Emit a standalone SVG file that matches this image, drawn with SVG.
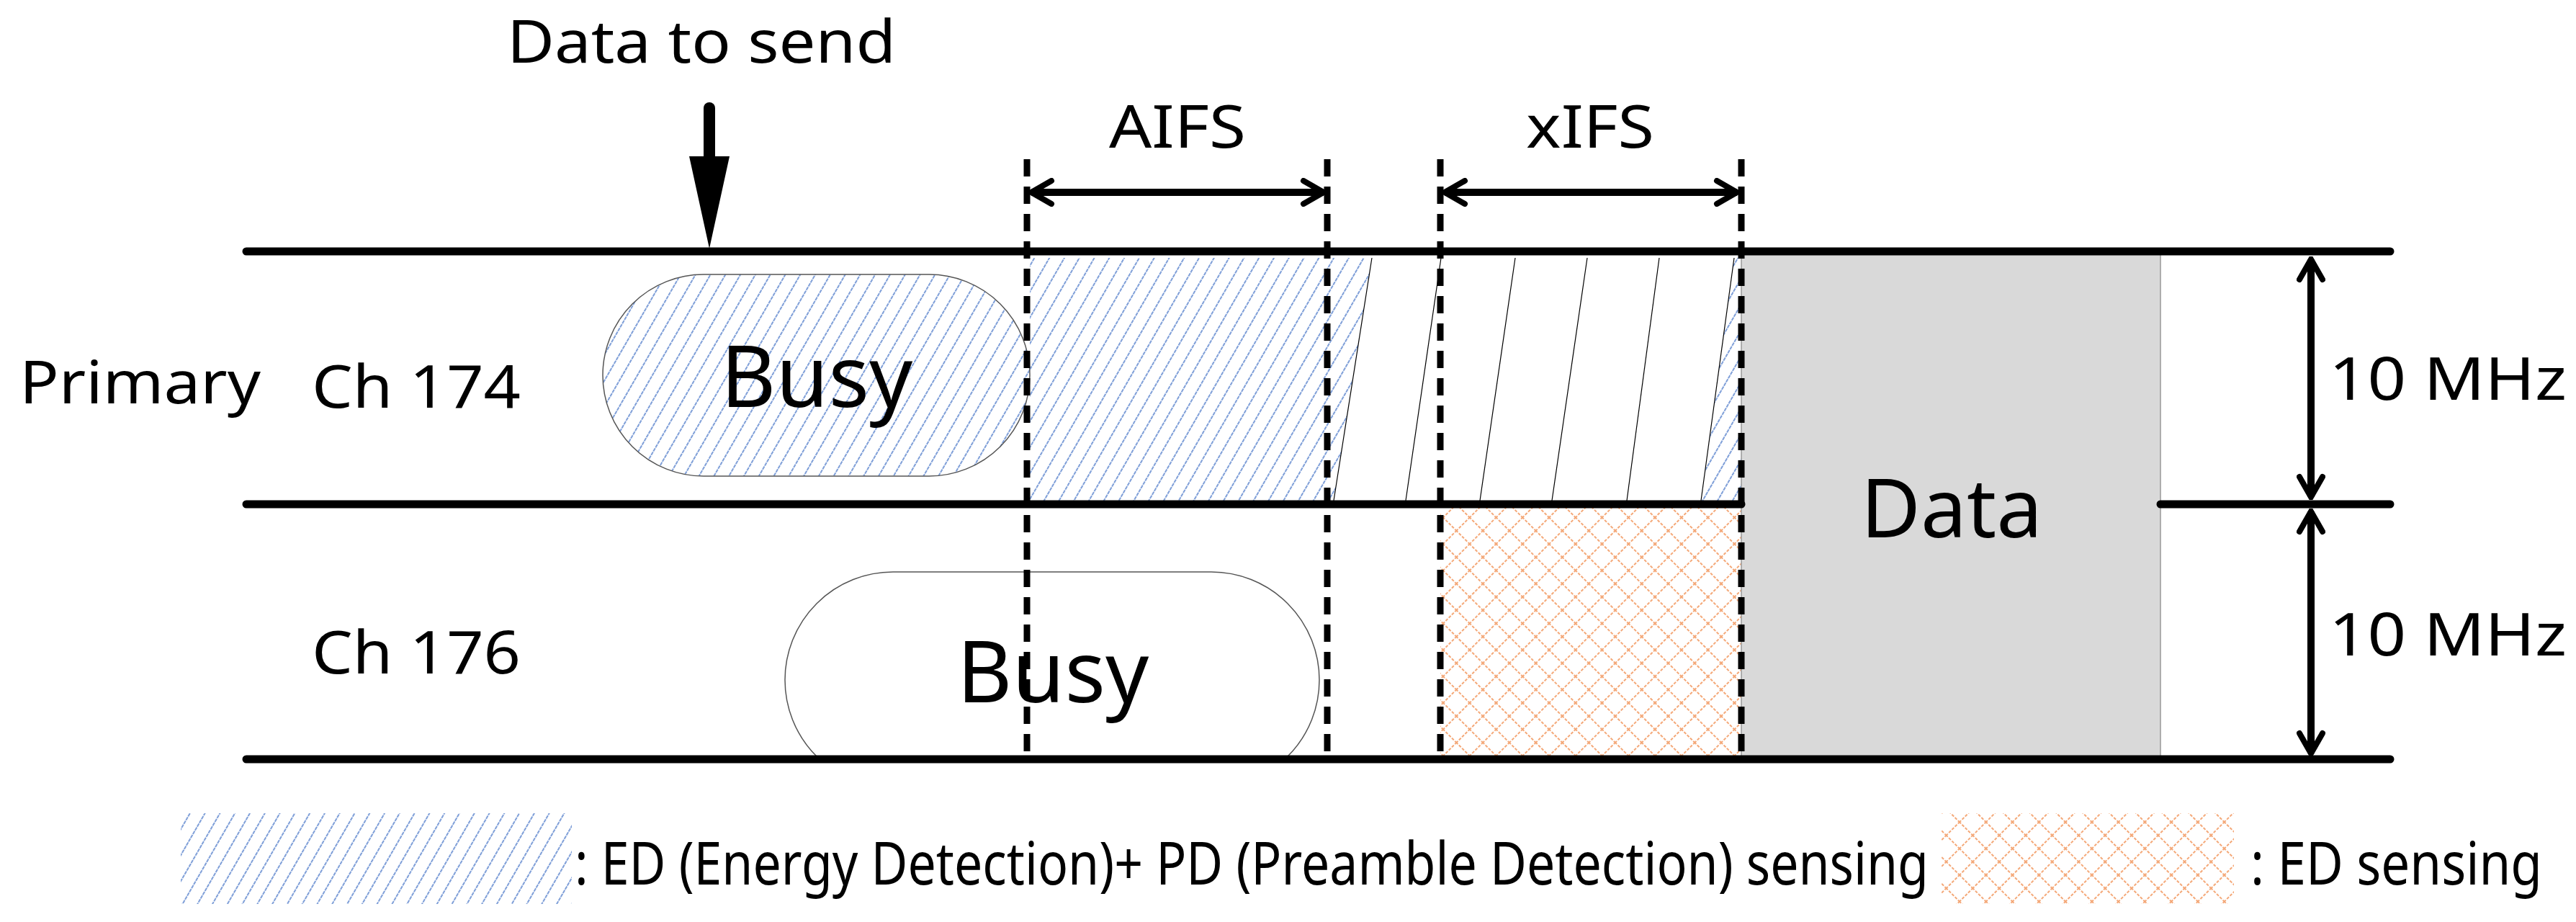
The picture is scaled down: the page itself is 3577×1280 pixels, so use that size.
<svg xmlns="http://www.w3.org/2000/svg" width="3577" height="1280" viewBox="0 0 3577 1280">
<defs>
<pattern id="blue" width="18" height="18" patternUnits="userSpaceOnUse" patternTransform="rotate(30)">
<line x1="0" y1="0" x2="0" y2="18" stroke="#7f9fd8" stroke-width="4" stroke-dasharray="5 1"/>
</pattern>
<pattern id="orange" width="26" height="26" patternUnits="userSpaceOnUse" patternTransform="rotate(45)">
<line x1="0" y1="0" x2="0" y2="26" stroke="#f4a878" stroke-width="4" stroke-dasharray="4 2"/>
<line x1="0" y1="0" x2="26" y2="0" stroke="#f4a878" stroke-width="4" stroke-dasharray="4 2"/>
</pattern>
<clipPath id="clip176"><rect x="1000" y="780" width="900" height="274"/></clipPath>
<marker id="ah2" viewBox="0 0 40 40" refX="36" refY="20" markerWidth="40" markerHeight="40" markerUnits="userSpaceOnUse" orient="auto-start-reverse">
<path d="M8,4 L36,20 L8,36" fill="none" stroke="#000" stroke-width="8" stroke-linecap="round"/>
</marker>
</defs>
<style>
text{font-family:"Noto Sans","Liberation Sans",sans-serif;fill:#000}
.l{font-size:82px}
.big{font-size:118px}
.ln{stroke:#000;stroke-width:11;stroke-linecap:round}
.dash{stroke:#000;stroke-width:9;stroke-dasharray:24 14}
.thin{stroke:#000;stroke-width:1.2}
</style>
<g id="fills">
<polygon points="1430,358 1905,358 1852,695 1430,695" fill="url(#blue)"/>
<polygon points="2408,358 2418,358 2418,695 2362,695" fill="url(#blue)"/>
<g class="thin">
<line x1="1905" y1="358" x2="1852" y2="695"/>
<line x1="2001" y1="358" x2="1952" y2="695"/>
<line x1="2104" y1="358" x2="2055" y2="695"/>
<line x1="2204" y1="358" x2="2155" y2="695"/>
<line x1="2304" y1="358" x2="2259" y2="695"/>
<line x1="2408" y1="358" x2="2362" y2="695"/>
</g>
<rect x="2000" y="700" width="418" height="354" fill="url(#orange)"/>
</g>
<g id="busy174">
<rect x="837" y="381" width="593" height="280" rx="140" fill="url(#blue)" stroke="#555" stroke-width="1.5"/>
<text class="big" x="1134" y="565" text-anchor="middle">Busy</text>
</g>
<g id="busy176">
<rect x="1090" y="794" width="742" height="300" rx="150" fill="#fff" stroke="#555" stroke-width="1.5" clip-path="url(#clip176)"/>
<text class="big" x="1462" y="975" text-anchor="middle">Busy</text>
</g>
<g id="data">
<rect x="2418" y="349" width="582" height="705" fill="#d9d9d9" stroke="#999" stroke-width="1.5"/>
<text x="2710" y="746" text-anchor="middle" style="font-size:114px">Data</text>
</g>
<g id="connectors">
<line class="ln" x1="342" y1="349" x2="3319" y2="349"/>
<line class="ln" x1="342" y1="700" x2="2418" y2="700"/>
<line class="ln" x1="3000" y1="700" x2="3319" y2="700"/>
<line class="ln" x1="342" y1="1054" x2="3319" y2="1054"/>
<line class="dash" x1="1426" y1="221" x2="1426" y2="1054"/>
<line class="dash" x1="1843" y1="221" x2="1843" y2="1054"/>
<line class="dash" x1="2000" y1="221" x2="2000" y2="1054"/>
<line class="dash" x1="2418" y1="221" x2="2418" y2="1054"/>
<line x1="1432" y1="267" x2="1838" y2="267" stroke="#000" stroke-width="10" marker-start="url(#ah2)" marker-end="url(#ah2)"/>
<line x1="2006" y1="267" x2="2412" y2="267" stroke="#000" stroke-width="10" marker-start="url(#ah2)" marker-end="url(#ah2)"/>
<line x1="3209" y1="360" x2="3209" y2="690" stroke="#000" stroke-width="10" marker-start="url(#ah2)" marker-end="url(#ah2)"/>
<line x1="3209" y1="710" x2="3209" y2="1046" stroke="#000" stroke-width="10" marker-start="url(#ah2)" marker-end="url(#ah2)"/>
<line x1="985" y1="150" x2="985" y2="220" stroke="#000" stroke-width="16" stroke-linecap="round"/>
<polygon points="957,217 1013,217 985,345" fill="#000"/>
</g>
<g id="labels">
<text class="l" x="974" y="87" text-anchor="middle" textLength="540" lengthAdjust="spacingAndGlyphs">Data to send</text>
<text class="l" x="1635" y="205" text-anchor="middle" textLength="190" lengthAdjust="spacingAndGlyphs">AIFS</text>
<text class="l" x="2208" y="205" text-anchor="middle" textLength="178" lengthAdjust="spacingAndGlyphs">xIFS</text>
<text class="l" x="27" y="560" textLength="335" lengthAdjust="spacingAndGlyphs">Primary</text>
<text class="l" x="433" y="566" textLength="290" lengthAdjust="spacingAndGlyphs">Ch 174</text>
<text class="l" x="433" y="935" textLength="290" lengthAdjust="spacingAndGlyphs">Ch 176</text>
<text class="l" x="3234" y="555" textLength="330" lengthAdjust="spacingAndGlyphs">10 MHz</text>
<text class="l" x="3234" y="910" textLength="330" lengthAdjust="spacingAndGlyphs">10 MHz</text>
</g>
<g id="legend">
<rect x="251" y="1129" width="543" height="126" fill="url(#blue)"/>
<text class="l" x="798" y="1228" textLength="1880" lengthAdjust="spacingAndGlyphs">: ED (Energy Detection)+ PD (Preamble Detection) sensing</text>
<rect x="2696" y="1129" width="406" height="126" fill="url(#orange)"/>
<text class="l" x="3125" y="1228" textLength="405" lengthAdjust="spacingAndGlyphs">: ED sensing</text>
</g>
</svg>
